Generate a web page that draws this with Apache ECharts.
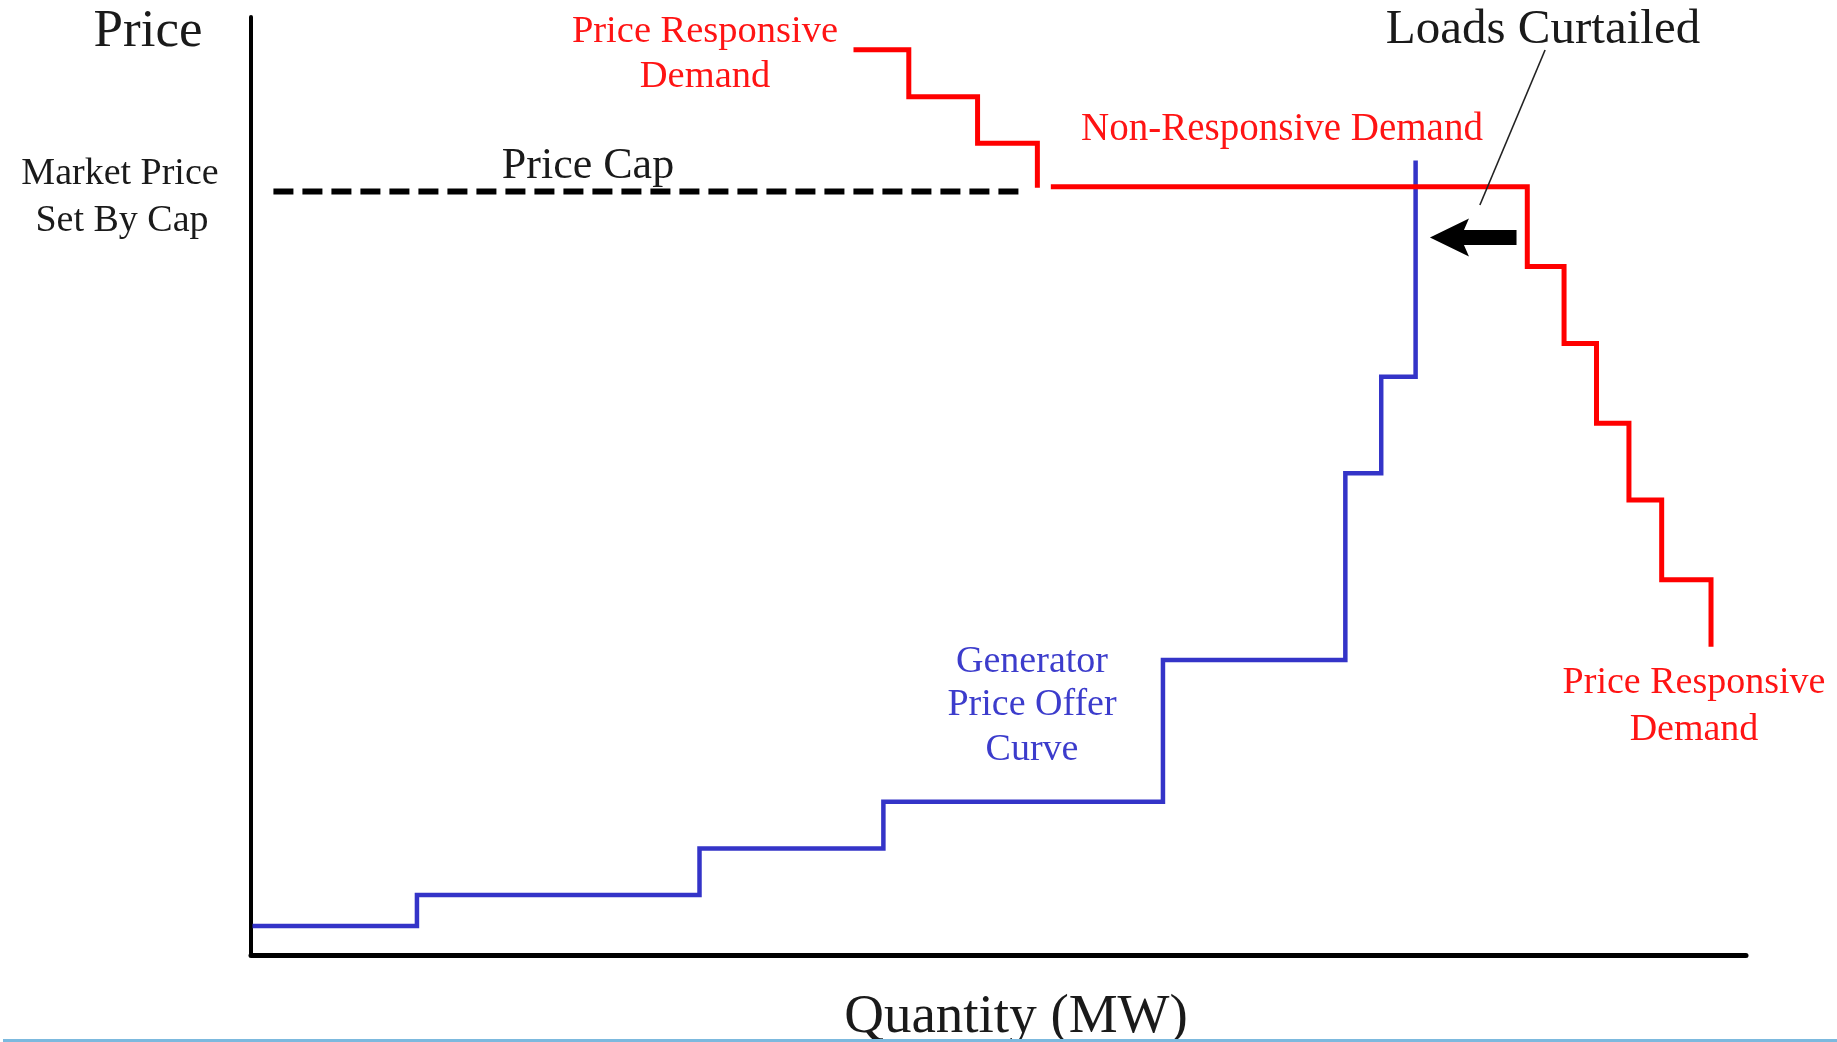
<!DOCTYPE html>
<html>
<head>
<meta charset="utf-8">
<script src="https://cdn.jsdelivr.net/npm/echarts@6/dist/echarts.min.js"></script>
<style>
  html, body { margin: 0; padding: 0; background: #ffffff; }
  #chart { width: 1837px; height: 1042px; }
</style>
</head>
<body>
<div id="chart"></div>
<script>
// ---- Data (schematic units: quantity 0-100, price 0-100) ----
// Generator price offer curve: quantity breakpoints and price levels
const genQty   = [0.1, 11.1, 30.0, 42.3, 61.0, 73.2, 75.6, 77.9];
const genPrice = [3.1, 6.4, 11.35, 16.35, 31.45, 51.35, 61.65, 84.7];
// Price responsive demand (upper left steps)
const respQty   = [40.3, 44.0, 48.6, 52.6];
const respPrice = [96.5, 91.5, 86.55, 81.8];
// Non-responsive demand then price responsive steps (right)
const demandQty   = [53.5, 85.37, 87.83, 90.0, 92.17, 94.36, 97.66];
const demandPrice = [81.9, 73.4, 65.2, 56.7, 48.5, 40.0, 32.85];
// Price cap
const capQty = [1.5, 51.4];
const capPrice = 81.4;
// Annotations (data units)
const arrowTail = [84.65, 76.5];
const arrowTip  = [78.86, 76.5];
const pointerLine = [[86.56, 96.48], [82.2, 79.96]];

function steps(q, p) {
  const pts = [[q[0], p[0]]];
  for (let i = 1; i < q.length; i++) {
    pts.push([q[i], p[i - 1]]);
    pts.push([q[i], p[i]]);
  }
  return pts;
}

const FONT = 'Liberation Serif';
const chart = echarts.init(document.getElementById('chart'), null, { renderer: 'canvas' });

const lineBase = { type: 'line', symbol: 'none', silent: true, animation: false };

chart.setOption({
  backgroundColor: '#ffffff',
  animation: false,
  grid: { left: 251, right: 91, top: 17, bottom: 87, containLabel: false },
  xAxis: {
    type: 'value', min: 0, max: 100,
    axisLine: { show: true, onZero: false, lineStyle: { color: '#000', width: 5 } },
    axisTick: { show: false }, axisLabel: { show: false }, splitLine: { show: false }
  },
  yAxis: {
    type: 'value', min: 0, max: 100,
    axisLine: { show: true, onZero: false, lineStyle: { color: '#000', width: 4 } },
    axisTick: { show: false }, splitLine: { show: false }, axisLabel: { show: false }
  },
  series: [
    Object.assign({}, lineBase, {
      name: 'Price Cap',
      data: capQty.map(q => [q, capPrice]),
      lineStyle: { color: '#000', width: 6, type: [20, 9], cap: 'butt' }
    }),
    Object.assign({}, lineBase, {
      name: 'Generator Price Offer Curve',
      data: steps(genQty, genPrice),
      lineStyle: { color: '#3434c8', width: 4.5, join: 'miter', cap: 'butt' }
    }),
    Object.assign({}, lineBase, {
      name: 'Price Responsive Demand (upper)',
      data: steps(respQty, respPrice),
      lineStyle: { color: '#ff0000', width: 5, join: 'miter', cap: 'butt' }
    }),
    Object.assign({}, lineBase, {
      name: 'Demand',
      data: steps(demandQty, demandPrice),
      lineStyle: { color: '#ff0000', width: 5, join: 'miter', cap: 'butt' }
    })
  ]
});

// ---- Annotations ----
const px = p => chart.convertToPixel({ gridIndex: 0 }, p);
const K = 0.32;
function txt(str, cx, baseline, fs, color) {
  return {
    type: 'text', silent: true, z: 10,
    style: {
      text: str, x: cx, y: baseline - K * fs,
      fontFamily: FONT, fontSize: fs, fill: color,
      align: 'center', verticalAlign: 'middle'
    }
  };
}
const RED = '#ff1414', BLUE = '#3c3ccc', BLK = '#1a1a1a';

const tip = px(arrowTip), tail = px(arrowTail);
const headLen = 39, headHalf = 19, shaftHalf = 7.5;
const arrowPts = [
  [tip[0], tip[1]],
  [tip[0] + headLen, tip[1] - headHalf],
  [tip[0] + headLen - 5, tip[1] - shaftHalf],
  [tail[0], tail[1] - shaftHalf],
  [tail[0], tail[1] + shaftHalf],
  [tip[0] + headLen - 5, tip[1] + shaftHalf],
  [tip[0] + headLen, tip[1] + headHalf]
];
const p0 = px(pointerLine[0]), p1 = px(pointerLine[1]);

chart.setOption({
  graphic: [
    txt('Price', 148, 49, 53, BLK),
    txt('Market Price', 120, 186, 38, BLK),
    txt('Set By Cap', 122, 233, 38, BLK),
    txt('Price Cap', 588, 181, 44, BLK),
    txt('Price Responsive', 705, 44, 38.5, RED),
    txt('Demand', 705, 89, 38.5, RED),
    txt('Non-Responsive Demand', 1282, 142, 39, RED),
    txt('Loads Curtailed', 1543, 46, 49, BLK),
    txt('Generator', 1032, 674, 38, BLUE),
    txt('Price Offer', 1032, 717, 38, BLUE),
    txt('Curve', 1032, 762, 38, BLUE),
    txt('Price Responsive', 1694, 695, 38, RED),
    txt('Demand', 1694, 742, 38, RED),
    txt('Quantity (MW)', 1016, 1035, 55, BLK),
    {
      type: 'polygon', silent: true, z: 10,
      shape: { points: arrowPts },
      style: { fill: '#000' }
    },
    {
      type: 'line', silent: true, z: 10,
      shape: { x1: p0[0], y1: p0[1], x2: p1[0], y2: p1[1] },
      style: { stroke: '#222', lineWidth: 1.6 }
    },
    {
      type: 'rect', silent: true, z: 20,
      shape: { x: 3, y: 1039, width: 1834, height: 3 },
      style: { fill: '#7cb9de' }
    }
  ]
});
</script>
</body>
</html>
